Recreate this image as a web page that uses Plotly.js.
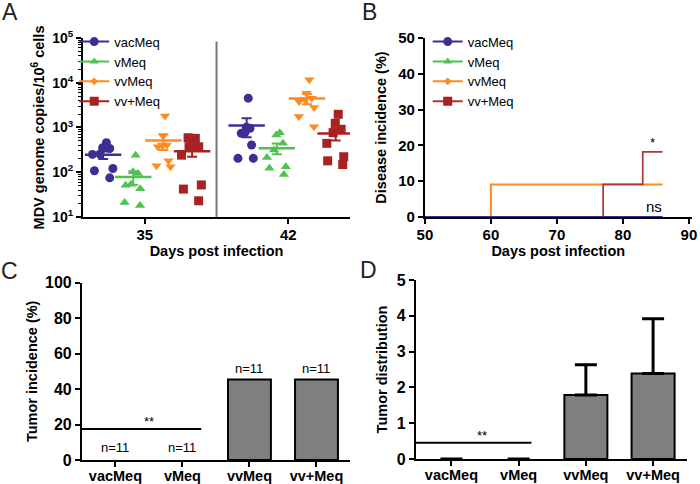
<!DOCTYPE html>
<html>
<head>
<meta charset="utf-8">
<script src="https://cdn.plot.ly/plotly-3.0.1.min.js"></script>
<style>html,body{margin:0;padding:0;background:#fff;}#chart{width:700px;height:484px;}</style>
</head>
<body>
<div id="chart"></div>
<script>
// ---------- DATA ----------
const groups = ['vacMeq', 'vMeq', 'vvMeq', 'vv+Meq'];
const days = ['35', '42'];
// Panel A: MDV genome copies / 10^6 cells (individual birds)
const vacMeq35 = [455, 352, 340, 255, 250, 121, 108, 75];
const vMeq35 = [241, 102, 94, 54, 51, 43, 21, 18];
const vvMeq35 = [1810, 645, 405, 405, 372, 180, 139, 132];
const vvPlusMeq35 = [590, 571, 380, 371, 371, 241, 52, 42, 23];
const vacMeq42 = [4520, 1010, 960, 780, 740, 405, 204, 204];
const vMeq42 = [764, 679, 442, 313, 214, 132, 122, 89];
const vvMeq42 = [11600, 5850, 4520, 4290, 3790, 2780, 1750, 1042];
const vvPlusMeq42 = [1970, 1240, 910, 766, 442, 222, 180, 149];
const logTickVals = [10, 100, 1000, 10000, 100000];
const logTickText = ['10<sup>1</sup>', '10<sup>2</sup>', '10<sup>3</sup>', '10<sup>4</sup>', '10<sup>5</sup>'];
// Panel B: disease incidence (%) step curves
const vacMeqDays = [50, 86];
const vacMeqInc = [0, 0];
const vMeqDays = [50, 86];
const vMeqInc = [0, 0];
const vvMeqDays = [50, 60, 86];
const vvMeqInc = [0, 9.09, 9.09];
const vvPlusMeqDays = [50, 77, 83, 86];
const vvPlusMeqInc = [0, 9.09, 18.18, 18.18];
const bTickVals = [50, 60, 70, 80, 90];
// Panel C: tumor incidence (%)
const tumorIncidence = [0, 0, 45.45, 45.45];
const nLabels = ['n=11', 'n=11', 'n=11', 'n=11'];
// Panel D: tumor distribution (mean, SD)
const tumorDist = [0, 0, 1.79, 2.39];
const tumorDistErr = [null, null, 0.84, 1.53];

// ---------- STYLE ----------
const FONT = 'Liberation Sans, Arial, Helvetica, sans-serif';
const colors = ['#3b2f93', '#4fc24f', '#ff8a22', '#a82222'];
const lineColorsB = ['#3b2f93', '#4fc24f', '#ff8a22', '#b03430'];
const symbolsPts = ['circle', 'triangle-up', 'triangle-down', 'square'];
const symbolsLeg = ['circle', 'triangle-up', 'diamond', 'square'];
const legSizes = [9, 8, 6, 9];
const ptSizes = [9, 9, 9, 9];
const groupOffsets = [-0.29, -0.08, 0.13, 0.33];

const dataA = [[vacMeq35, vacMeq42], [vMeq35, vMeq42], [vvMeq35, vvMeq42], [vvPlusMeq35, vvPlusMeq42]];

function mean(a) { return a.reduce((s, v) => s + v, 0) / a.length; }
function sem(a) {
  const m = mean(a);
  const v = a.reduce((s, x) => s + (x - m) * (x - m), 0) / (a.length - 1);
  return Math.sqrt(v) / Math.sqrt(a.length);
}

const traces = [];
// Panel A points (library jitter via box traces with invisible boxes)
groups.forEach((g, gi) => {
  dataA[gi].forEach((vals, di) => {
    traces.push({
      type: 'box', y: vals, x0: di + groupOffsets[gi], width: 0.19,
      boxpoints: 'all', jitter: 1, pointpos: 0,
      fillcolor: 'rgba(0,0,0,0)', line: { width: 0, color: 'rgba(0,0,0,0)' },
      marker: { symbol: symbolsPts[gi], size: ptSizes[gi], color: colors[gi], opacity: 1 },
      showlegend: false, hoverinfo: 'y', xaxis: 'x', yaxis: 'y'
    });
  });
});
// Panel A mean ± SEM
groups.forEach((g, gi) => {
  traces.push({
    type: 'scatter', mode: 'markers',
    x: days.map((d, di) => di + groupOffsets[gi]),
    y: dataA[gi].map(mean),
    error_y: { type: 'data', array: dataA[gi].map(sem), visible: true, color: colors[gi], thickness: 2, width: 5 },
    marker: { symbol: 'line-ew', size: 26, color: colors[gi], line: { color: colors[gi], width: 2.5 } },
    showlegend: false, xaxis: 'x', yaxis: 'y'
  });
});
// Panel A legend entries
groups.forEach((g, gi) => {
  traces.push({
    type: 'scatter', mode: 'lines+markers', x: [null], y: [null], name: g,
    line: { color: colors[gi], width: 2 },
    marker: { symbol: symbolsLeg[gi], size: legSizes[gi], color: colors[gi] },
    legend: 'legend', xaxis: 'x', yaxis: 'y'
  });
});
// Panel B step lines (draw order: vvMeq, vv+Meq, vMeq, vacMeq)
const bX = [vacMeqDays, vMeqDays, vvMeqDays, vvPlusMeqDays];
const bY = [vacMeqInc, vMeqInc, vvMeqInc, vvPlusMeqInc];
[2, 3, 1, 0].forEach(gi => {
  traces.push({
    type: 'scatter', mode: 'lines', x: bX[gi], y: bY[gi], name: groups[gi],
    line: { shape: 'hv', color: lineColorsB[gi], width: gi === 3 ? 1.7 : 2 },
    cliponaxis: false, showlegend: false, xaxis: 'x2', yaxis: 'y2'
  });
});
groups.forEach((g, gi) => {
  traces.push({
    type: 'scatter', mode: 'lines+markers', x: [null], y: [null], name: g,
    line: { color: lineColorsB[gi], width: 2 },
    marker: { symbol: symbolsLeg[gi], size: legSizes[gi], color: colors[gi] },
    legend: 'legend2', xaxis: 'x2', yaxis: 'y2'
  });
});
// Panel C bars
traces.push({
  type: 'bar', x: groups, y: tumorIncidence, width: 0.64,
  marker: { color: '#7f7f7f', line: { color: '#000', width: tumorIncidence.map(v => v > 0 ? 2 : 0) } },
  showlegend: false, xaxis: 'x3', yaxis: 'y3'
});
// Panel D bars
traces.push({
  type: 'bar', x: groups, y: tumorDist, width: 0.64,
  marker: { color: '#7f7f7f', line: { color: '#000', width: tumorDist.map(v => v > 0 ? 2 : 0) } },
  error_y: { type: 'data', array: tumorDistErr, arrayminus: tumorDistErr.map(() => 0), symmetric: false, visible: true, color: '#000', thickness: 3, width: 11 },
  showlegend: false, xaxis: 'x4', yaxis: 'y4'
});

const axBase = {
  showline: true, linecolor: '#000', linewidth: 2, mirror: false,
  ticks: 'outside', ticklen: 5, tickwidth: 2, tickcolor: '#000',
  tickfont: { family: FONT, size: 15, color: '#000', weight: 'bold' },
  showgrid: false, zeroline: false, automargin: false, fixedrange: true,
  ticklabeloverflow: 'allow'
};
const titleFont = { family: FONT, size: 14.5, color: '#000', weight: 'bold' };
function ax(extra) { return Object.assign({}, JSON.parse(JSON.stringify(axBase)), extra); }

const annotations = [];
// panel letters
[['A', 0.014, 0.975], ['B', 0.528, 0.975], ['C', 0.013, 0.44], ['D', 0.526, 0.443]].forEach(p => {
  annotations.push({ xref: 'paper', yref: 'paper', x: p[1], y: p[2], text: p[0], showarrow: false,
    font: { family: FONT, size: 23, color: '#222' }, xanchor: 'center', yanchor: 'middle' });
});
// Panel B significance
annotations.push({ xref: 'x2', yref: 'y2', x: 84.5, y: vvPlusMeqInc[vvPlusMeqInc.length - 1], text: '*', showarrow: false,
  yanchor: 'bottom', yshift: 0, font: { family: FONT, size: 13, color: '#000' } });
annotations.push({ xref: 'x2', yref: 'y2', x: 84.7, y: 0, text: 'ns', showarrow: false,
  yanchor: 'bottom', yshift: 0, font: { family: FONT, size: 15, color: '#000' } });
// Panel C n labels and **
groups.forEach((g, i) => {
  annotations.push({ xref: 'x3', yref: 'y3', x: g, y: tumorIncidence[i], text: nLabels[i], showarrow: false,
    yanchor: 'bottom', yshift: tumorIncidence[i] > 0 ? 1 : 3, font: { family: FONT, size: 13, color: '#000' } });
});
annotations.push({ xref: 'x3', yref: 'y3', x: 0.5, y: 17.5, text: '**', showarrow: false, yanchor: 'bottom',
  yshift: -2, font: { family: FONT, size: 13, color: '#000' } });
annotations.push({ xref: 'x4', yref: 'y4', x: 0.45, y: 0.45, text: '**', showarrow: false, yanchor: 'bottom',
  yshift: -2, font: { family: FONT, size: 13, color: '#000' } });

const shapes = [
  { type: 'line', xref: 'x', yref: 'y domain', x0: 0.5, x1: 0.5, y0: 0, y1: 0.98, line: { color: '#777', width: 2 } },
  { type: 'line', xref: 'x3', yref: 'y3', x0: -0.5, x1: 1.28, y0: 17.5, y1: 17.5, line: { color: '#000', width: 2 } },
  { type: 'line', xref: 'x4', yref: 'y4', x0: -0.53, x1: 1.19, y0: 0.45, y1: 0.45, line: { color: '#000', width: 2 } }
];

const legendBase = { bgcolor: 'rgba(0,0,0,0)', font: { family: FONT, size: 13, color: '#000' },
  xanchor: 'left', yanchor: 'top', itemclick: false, tracegroupgap: 0 };

const catTickFont = { family: FONT, size: 14.5, color: '#000', weight: 'bold' };
const layout = {
  width: 700, height: 484, margin: { l: 0, r: 0, t: 0, b: 0 },
  paper_bgcolor: '#fff', plot_bgcolor: 'rgba(0,0,0,0)',
  font: { family: FONT, color: '#000' },
  showlegend: true,
  legend: Object.assign({}, legendBase, { x: 0.106, y: 0.945 }),
  legend2: Object.assign({}, legendBase, { x: 0.611, y: 0.945 }),
  xaxis: ax({ domain: [0.1186, 0.5], range: [-0.43, 1.43], tickmode: 'array',
    tickvals: days.map((d, i) => i), ticktext: days, anchor: 'y', ticklabelstandoff: -2,
    title: { text: 'Days post infection', font: titleFont, standoff: 2 } }),
  yaxis: ax({ domain: [0.5517, 0.9215], type: 'log', range: [1, 5], tickmode: 'array',
    tickvals: logTickVals, ticktext: logTickText, anchor: 'x',
    tickfont: { family: FONT, size: 14, color: '#000', weight: 'bold' },
    minor: { ticks: 'outside', ticklen: 3, tickwidth: 1, tickcolor: '#000', dtick: 'D1' },
    title: { text: 'MDV genome copies/10<sup>6</sup> cells', font: titleFont, standoff: 4 } }),
  xaxis2: ax({ domain: [0.607, 0.988], range: [50, 90.4], tickmode: 'array', tickvals: bTickVals,
    anchor: 'y2', layer: 'below traces', ticklabelstandoff: -2,
    title: { text: 'Days post infection', font: titleFont, standoff: 2 } }),
  yaxis2: ax({ domain: [0.5517, 0.9215], range: [0, 50], dtick: 10, anchor: 'x2',
    title: { text: 'Disease incidence (%)', font: titleFont, standoff: 8 } }),
  xaxis3: ax({ domain: [0.117, 0.5], type: 'category', range: [-0.5, 3.5], anchor: 'y3',
    ticklabelstandoff: -3, tickfont: catTickFont }),
  yaxis3: ax({ domain: [0.0496, 0.416], range: [0, 100], dtick: 20, anchor: 'x3',
    tickfont: { family: FONT, size: 16, color: '#000', weight: 'bold' },
    title: { text: 'Tumor incidence (%)', font: titleFont, standoff: 4 } }),
  xaxis4: ax({ domain: [0.594, 0.981], type: 'category', range: [-0.53, 3.5], anchor: 'y4',
    ticklabelstandoff: -3, tickfont: catTickFont }),
  yaxis4: ax({ domain: [0.0517, 0.4215], range: [0, 5], dtick: 1, anchor: 'x4',
    tickfont: { family: FONT, size: 16, color: '#000', weight: 'bold' },
    title: { text: 'Tumor distribution', font: titleFont, standoff: 6 } }),
  annotations: annotations,
  shapes: shapes,
  bargap: 0.36
};

Plotly.newPlot('chart', traces, layout, { displayModeBar: false, staticPlot: true });
</script>
</body>
</html>
